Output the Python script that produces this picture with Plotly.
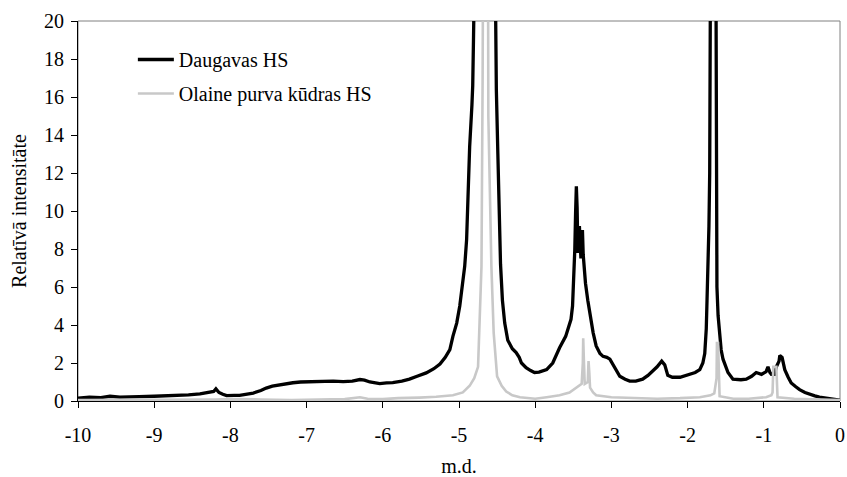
import plotly.graph_objects as go

# Spectrum of the Daugava river humic substances (relative intensity vs chemical shift)
daugava_x = [
    -10.0, -9.85, -9.7, -9.58, -9.45, -9.37, -9.2, -9.0, -8.85, -8.71, -8.55, -8.40,
    -8.28, -8.22, -8.19, -8.15, -8.10, -8.05, -7.95, -7.88, -7.80, -7.70, -7.60, -7.53,
    -7.45, -7.35, -7.25, -7.18, -7.08, -7.0, -6.9, -6.82, -6.74, -6.65, -6.52, -6.40,
    -6.30, -6.24, -6.17, -6.04, -5.95, -5.87, -5.75, -5.65, -5.55, -5.43, -5.33, -5.25,
    -5.18, -5.12, -5.08, -5.03, -4.99, -4.96, -4.925, -4.90, -4.88, -4.86, -4.83, -4.82,
    -4.81, -4.80, -4.66, -4.53, -4.52, -4.51, -4.49, -4.475, -4.455, -4.43, -4.40, -4.36,
    -4.30, -4.25, -4.21, -4.18, -4.12, -4.06, -4.01, -3.95, -3.85, -3.77, -3.68, -3.60,
    -3.53, -3.51, -3.495, -3.48, -3.47, -3.46, -3.45, -3.44, -3.43, -3.42, -3.40, -3.39,
    -3.38, -3.37, -3.355, -3.34, -3.31, -3.285, -3.24, -3.20, -3.15, -3.11, -3.06, -3.02,
    -2.96, -2.89, -2.82, -2.76, -2.68, -2.59, -2.52, -2.455, -2.40, -2.34, -2.30, -2.26,
    -2.20, -2.10, -1.97, -1.90, -1.84, -1.80, -1.775, -1.755, -1.745, -1.73, -1.72, -1.71,
    -1.705, -1.70, -1.665, -1.63, -1.625, -1.62, -1.615, -1.60, -1.58, -1.56, -1.535, -1.50,
    -1.47, -1.405, -1.30, -1.23, -1.16, -1.10, -1.03, -0.97, -0.945, -0.92, -0.90, -0.86,
    -0.835, -0.80, -0.79, -0.76, -0.74, -0.725, -0.68, -0.64, -0.58, -0.53, -0.46, -0.40,
    -0.33, -0.27, -0.18, -0.09, 0.0,
]
daugava_y = [
    0.15, 0.2, 0.18, 0.25, 0.2, 0.22, 0.23, 0.25, 0.27, 0.28, 0.32, 0.38,
    0.45, 0.5, 0.64, 0.45, 0.35, 0.28, 0.3, 0.3, 0.35, 0.42, 0.55, 0.68,
    0.78, 0.86, 0.92, 0.96, 1.0, 1.01, 1.03, 1.06, 1.08, 1.05, 1.02, 1.05,
    1.13, 1.1, 1.0, 0.92, 0.95, 0.97, 1.05, 1.15, 1.3, 1.48, 1.7, 1.95,
    2.3, 2.7, 3.4, 4.1, 5.0, 6.0, 7.1, 8.5, 11.0, 13.4, 15.6, 16.6,
    19.0, 25.0, 60.0, 25.0, 19.0, 16.4, 13.0, 9.9, 7.2, 5.3, 4.1, 3.2,
    2.75, 2.55, 2.3, 2.0, 1.75, 1.6, 1.5, 1.52, 1.65, 2.0, 2.8, 3.4,
    4.3, 5.0, 6.2, 8.0, 9.9, 11.3, 10.2, 7.8, 8.6, 9.2, 7.5, 8.3,
    9.0, 7.7, 6.8, 6.2, 5.3, 4.6, 3.6, 2.9, 2.5, 2.35, 2.3, 2.2,
    1.75, 1.3, 1.15, 1.05, 1.05, 1.15, 1.35, 1.6, 1.8, 2.1, 1.9, 1.35,
    1.25, 1.25, 1.4, 1.5, 1.65, 2.0, 2.5, 3.8, 5.3, 7.0, 9.2, 12.0,
    14.1, 25.0, 60.0, 25.0, 13.1, 9.0, 6.0, 4.5, 3.6, 2.7, 2.2, 1.8,
    1.5, 1.15, 1.12, 1.15, 1.3, 1.5, 1.4, 1.55, 1.8, 1.5, 1.4, 1.4,
    1.8, 2.1, 2.4, 2.3, 1.9, 1.65, 1.25, 0.95, 0.75, 0.6, 0.45, 0.35,
    0.27, 0.2, 0.15, 0.1, 0.05,
]

# Spectrum of the Olaine bog peat humic substances
olaine_x = [
    -10.0, -9.5, -9.0, -8.5, -8.2, -8.0, -7.8, -7.6, -7.2, -6.8, -6.5, -6.3,
    -6.2, -6.0, -5.8, -5.52, -5.3, -5.08, -4.95, -4.86, -4.80, -4.75, -4.73, -4.705,
    -4.69, -4.685, -4.65, -4.62, -4.615, -4.575, -4.545, -4.50, -4.44, -4.38, -4.3, -4.2,
    -4.0, -3.85, -3.68, -3.55, -3.46, -3.39, -3.375, -3.37, -3.36, -3.35, -3.31, -3.30,
    -3.29, -3.28, -3.24, -3.20, -3.0, -2.7, -2.4, -2.1, -1.84, -1.70, -1.65, -1.62,
    -1.615, -1.60, -1.59, -1.58, -1.4, -1.2, -0.97, -0.90, -0.885, -0.875, -0.835, -0.825,
    -0.82, -0.6, -0.3, 0.0,
]
olaine_y = [
    0.05, 0.05, 0.05, 0.05, 0.08, 0.1, 0.1, 0.08, 0.05, 0.08, 0.1, 0.2,
    0.12, 0.1, 0.15, 0.18, 0.22, 0.3, 0.45, 0.8, 1.2, 1.8, 3.9, 7.1,
    17.0, 25.0, 60.0, 25.0, 15.0, 7.1, 3.6, 1.3, 0.8, 0.5, 0.3, 0.2,
    0.12, 0.2, 0.3, 0.45, 0.7, 0.9, 2.0, 3.3, 2.0, 0.9, 1.0, 2.1,
    1.5, 0.7, 0.45, 0.3, 0.2, 0.15, 0.12, 0.15, 0.2, 0.3, 0.4, 1.2,
    3.05, 3.05, 1.0, 0.25, 0.12, 0.12, 0.2, 0.3, 0.45, 1.8, 1.8, 0.4,
    0.2, 0.12, 0.08, 0.05,
]

x_ticks = [-10, -9, -8, -7, -6, -5, -4, -3, -2, -1, 0]
y_ticks = [0, 2, 4, 6, 8, 10, 12, 14, 16, 18, 20]

FONT = "Liberation Serif"
TXT = dict(family=FONT, size=20, color="black")

fig = go.Figure()
fig.add_trace(go.Scatter(
    x=daugava_x, y=daugava_y, mode="lines", name="Daugavas HS",
    line=dict(color="#000000", width=3.3), legendgroup="a",
))
fig.add_trace(go.Scatter(
    x=olaine_x, y=olaine_y, mode="lines", name="Olaine purva kūdras HS",
    line=dict(color="#c8c8c8", width=2.6), legendgroup="b",
))

# Plot-area frame
fig.add_shape(type="rect", xref="paper", yref="paper", x0=0, y0=0, x1=1, y1=1,
              line=dict(color="#808080", width=1), layer="below")

fig.update_layout(
    template="none",
    width=847, height=477,
    margin=dict(l=78, r=7, t=21, b=76),
    paper_bgcolor="white", plot_bgcolor="white",
    font=TXT,
    showlegend=True,
    legend=dict(x=0.072, y=0.95, xanchor="left", yanchor="top",
                bgcolor="rgba(0,0,0,0)", borderwidth=0, itemwidth=36,
                tracegroupgap=5, font=TXT),
    xaxis=dict(
        range=[-10, 0], tickvals=x_ticks, ticktext=[str(v) for v in x_ticks],
        showgrid=False, zeroline=False, showline=True, linecolor="black", linewidth=1,
        ticks="outside", ticklen=6, tickcolor="black", tickwidth=1, tickfont=TXT,
        ticklabelstandoff=10,
        title=dict(text="m.d.", standoff=15, font=TXT),
    ),
    yaxis=dict(
        range=[0, 20], tickvals=y_ticks, ticktext=[str(v) for v in y_ticks],
        showgrid=False, zeroline=False, showline=True, linecolor="black", linewidth=1,
        ticks="outside", ticklen=6, tickcolor="black", tickwidth=1, tickfont=TXT,
        ticklabelstandoff=3,
        title=dict(text="Relatīvā intensitāte", standoff=12, font=TXT),
    ),
)

fig.write_html("out.html")
